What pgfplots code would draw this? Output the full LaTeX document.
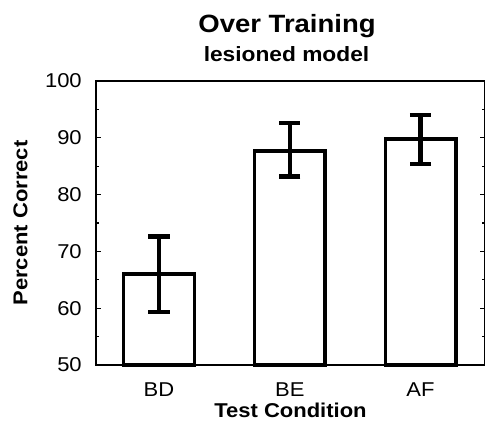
\documentclass[border=0pt]{standalone}
\usepackage{fontspec}
\setmainfont{Liberation Sans}[FakeStretch=1.1]
\usepackage{pgfplots}
\pgfplotsset{compat=1.18}
\begin{document}
\begin{tikzpicture}
\begin{axis}[
  name=ax,
  scale only axis,
  width=291.75pt, height=213pt,
  xmin=-0.482, xmax=2.493,
  ymin=50, ymax=100,
  ytick={50,60,...,100},
  minor ytick={55,65,...,95},
  xtick={0,1,2},
  xticklabels={BD,BE,AF},
  tick align=inside,
  major tick length=3.75pt,
  minor tick length=2pt,
  x tick style={draw=none},
  every tick/.style={black, line width=1pt},
  axis line style={line width=1.3pt},
  /pgf/number format/assume math mode=true,
  ticklabel style={font=\fontsize{15}{18}\selectfont},
  yticklabel style={inner sep=0pt, xshift=-10.5pt},
  xticklabel style={anchor=base, inner sep=0pt, yshift=-20pt},
  xlabel={Test Condition},
  ylabel={Percent Correct},
  label style={font=\fontsize{15}{18}\selectfont\bfseries, inner sep=0pt},
  xlabel style={at={([yshift=-39.75pt]axis description cs:0.5,0)}, anchor=base},
  ylabel style={at={([xshift=-51.4pt]axis description cs:0,0.5)}, anchor=base},
  ybar, bar width=0.54,
  clip=false,
]
\addplot[fill=white, draw=black, line width=2.6pt, bar shift=0pt,
  error bars/.cd, y dir=both, y explicit,
  error bar style={line width=3.2pt},
  error mark options={rotate=90, line width=3.2pt, mark size=8pt}]
  coordinates {
    (0,66.0) += (0,6.6) -= (0,6.7)
    (1,87.7) += (0,4.9) -= (0,4.5)
    (2,89.8) += (0,4.2) -= (0,4.4)
  };
\node[anchor=base, inner sep=0pt, font=\fontsize{18.75}{22}\selectfont\bfseries]
  at ([xshift=-2.6pt, yshift=36pt]axis description cs:0.5,1) {Over Training};
\node[anchor=base, inner sep=0pt, font=\fontsize{15.5}{18}\selectfont\bfseries]
  at ([xshift=-3pt, yshift=14.25pt]axis description cs:0.5,1) {lesioned model};
\end{axis}
\pgfresetboundingbox
\useasboundingbox ([shift={(-72pt,-43.5pt)}]ax.south west) rectangle ([shift={(291.75pt,273.75pt)}]ax.south west);
\end{tikzpicture}
\end{document}
